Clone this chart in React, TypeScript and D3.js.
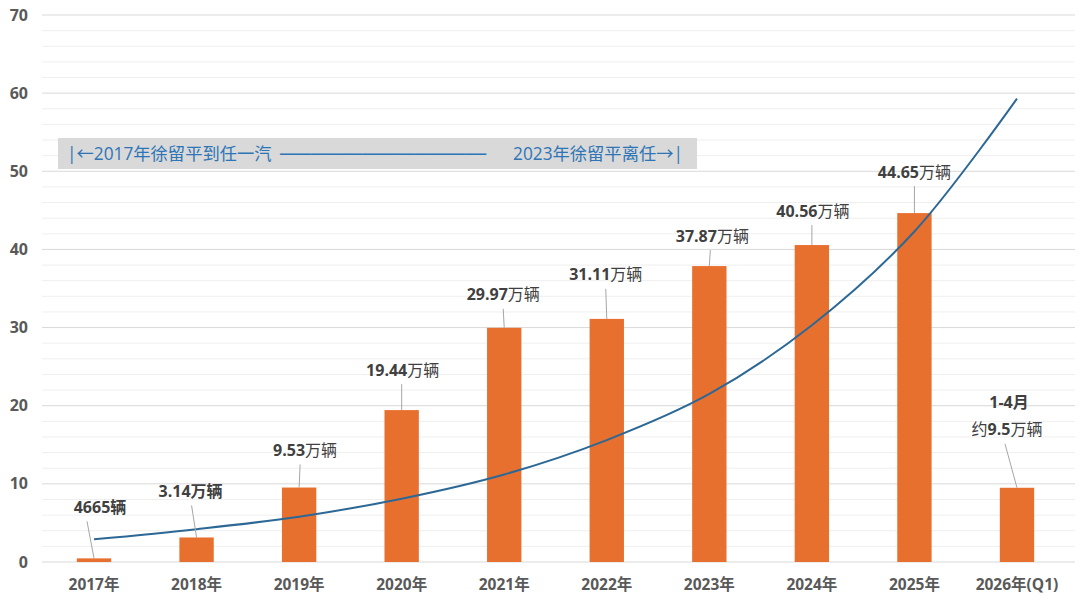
import * as d3 from "d3";

const categories = [
  "2017年", "2018年", "2019年", "2020年", "2021年",
  "2022年", "2023年", "2024年", "2025年", "2026年(Q1)",
];
const sales = [0.4665, 3.14, 9.53, 19.44, 29.97, 31.11, 37.87, 40.56, 44.65, 9.5];
const labelNums = ["4665", "3.14", "9.53", "19.44", "29.97", "31.11", "37.87", "40.56", "44.65", "9.5"];
const labelUnits = ["辆", "万辆", "万辆", "万辆", "万辆", "万辆", "万辆", "万辆", "万辆", "万辆"];
const trend = [2.9, 4.2, 5.8, 8.1, 11.2, 15.6, 21.5, 30.3, 42.3, 59.3];
const yTicks = [0, 10, 20, 30, 40, 50, 60, 70];

// label placement: [dx from bar centre, lift above bar top, leader start dx]
const labelLayout = [
  [6, 51, -7], [-6, 46, -5], [6, 37, 1], [1, 40, 0], [-1, 33, -1],
  [-1, 44, -1], [3, 30, 1], [1, 34, 0], [0, 41, 0], [-10, 58, -12],
];

const W = 1080;
const H = 608;
const font = "'Open Sans', 'Noto Sans CJK SC', sans-serif";

export default function App() {
  const x = d3.scaleBand<string>().domain(categories).range([43, 1068]).paddingInner(0.665).paddingOuter(0.33);
  const y = d3.scaleLinear().domain([0, 70]).range([562, 15]);
  const cx = (c: string) => (x(c) ?? 0) + x.bandwidth() / 2;

  const minor = d3.range(0, 70.1, 2);
  const trendLine = d3
    .line<number>()
    .x((_, i) => cx(categories[i]))
    .y((d) => y(d))
    .curve(d3.curveCatmullRom)(trend);

  return (
    <svg width={W} height={H} style={{ position: "absolute", left: 0, top: 0, background: "#fff" }} fontFamily={font}>
      {/* grid */}
      {minor.map((v) => (
        <line key={"g" + v} x1={42} x2={1075} y1={y(v)} y2={y(v)}
          stroke={v % 10 === 0 ? "#d9d9d9" : "#efefef"} strokeWidth={1} />
      ))}
      {yTicks.map((v) => (
        <text key={"t" + v} x={28} y={y(v)} dy="0.35em" textAnchor="end"
          fontSize={16} fontWeight="bold" fill="#595959">{v}</text>
      ))}

      {/* bars */}
      {categories.map((c, i) => (
        <rect key={c} x={x(c)} y={y(sales[i])} width={x.bandwidth()} height={y(0) - y(sales[i])} fill="#e8702f" />
      ))}

      {/* trend */}
      <path d={trendLine ?? ""} fill="none" stroke="#2c6896" strokeWidth={2} />

      {/* leaders + labels */}
      {categories.map((c, i) => {
        const [dx, lift, ldx] = labelLayout[i];
        const bx = cx(c);
        const top = y(sales[i]);
        const lx = bx + dx;
        const ly = top - lift;
        const unitBold = i < 2;
        return (
          <g key={"l" + c}>
            <line x1={bx + ldx} y1={ly + 14} x2={bx} y2={top} stroke="#a6a6a6" strokeWidth={1} />
            {i === categories.length - 1 && (
              <text x={lx + 2} y={ly - 27} dy="0.35em" textAnchor="middle" fontSize={16}
                fontWeight="bold" fill="#404040">1-4月</text>
            )}
            <text x={lx} y={ly} dy="0.35em" textAnchor="middle" fontSize={16} fill="#404040">
              {i === categories.length - 1 && <tspan>约</tspan>}
              <tspan fontWeight="bold">{labelNums[i]}</tspan>
              <tspan fontWeight={unitBold ? "bold" : "normal"}>{labelUnits[i]}</tspan>
            </text>
          </g>
        );
      })}

      {/* x labels */}
      {categories.map((c) => (
        <text key={"x" + c} x={cx(c)} y={585} dy="0.35em" textAnchor="middle"
          fontSize={15.5} fontWeight="bold" fill="#595959">{c}</text>
      ))}

      {/* tenure banner */}
      <rect x={58} y={138} width={639} height={31} fill="#d9d9d9" />
      <text x={67} y={154} dy="0.35em" fontSize={17.3} fill="#2e75b6">|←2017年徐留平到任一汽</text>
      <text x={280} y={154} dy="0.35em" fontSize={17} fill="#2e75b6" fontFamily="'DejaVu Sans'"
        textLength={206} lengthAdjust="spacingAndGlyphs">────────────────────</text>
      <text x={683} y={154} dy="0.35em" textAnchor="end" fontSize={17.3} fill="#2e75b6">2023年徐留平离任→|</text>
    </svg>
  );
}
